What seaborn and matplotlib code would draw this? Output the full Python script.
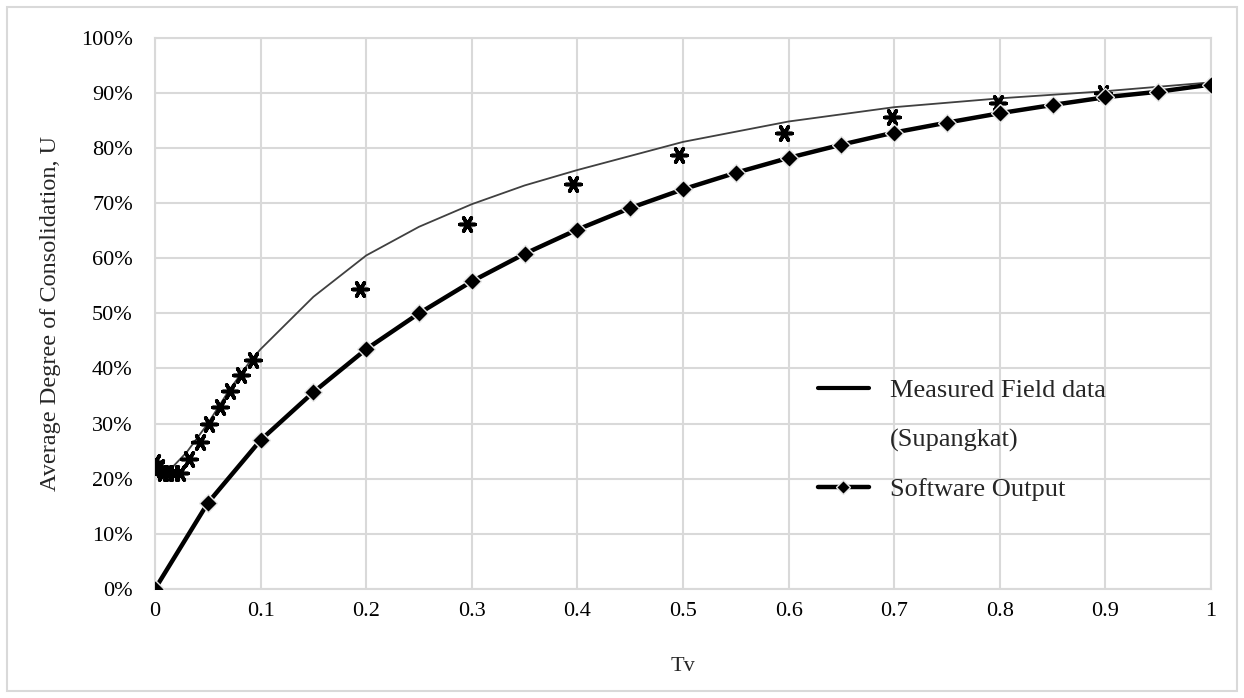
import numpy as np
import pandas as pd
import matplotlib
matplotlib.use("Agg")
import matplotlib.pyplot as plt
from matplotlib.lines import Line2D
from matplotlib.patches import Rectangle
from matplotlib.ticker import PercentFormatter, FuncFormatter
import seaborn as sns

# ---- data ----
tv_software = [0.0, 0.05, 0.1, 0.15, 0.2, 0.25, 0.3, 0.35, 0.4, 0.45, 0.5,
               0.55, 0.6, 0.65, 0.7, 0.75, 0.8, 0.85, 0.9, 0.95, 1.0]
u_software = [0.0, 15.6, 27.0, 35.7, 43.5, 50.0, 55.8, 60.8, 65.2, 69.1, 72.5,
              75.5, 78.2, 80.6, 82.8, 84.6, 86.3, 87.8, 89.2, 90.2, 91.5]

tv_field_line = [0.0, 0.012, 0.03, 0.05, 0.07, 0.09, 0.1, 0.15, 0.2, 0.25, 0.3,
                 0.35, 0.4, 0.5, 0.6, 0.7, 0.8, 0.9, 1.0]
u_field_line = [21.0, 21.2, 24.8, 30.0, 36.0, 41.3, 43.5, 53.0, 60.5, 65.7, 69.8,
                73.2, 76.0, 81.1, 84.8, 87.4, 89.0, 90.3, 91.9]

tv_field_pts = [0.0, 0.0, 0.004, 0.008, 0.012, 0.018, 0.024, 0.032, 0.043, 0.051,
                0.062, 0.071, 0.081, 0.093, 0.194, 0.295, 0.396, 0.496, 0.596,
                0.698, 0.798, 0.898]
u_field_pts = [23.0, 21.5, 22.2, 21.0, 21.0, 21.0, 21.0, 23.6, 26.6, 30.0,
               33.0, 36.0, 38.9, 41.5, 54.4, 66.2, 73.4, 78.8, 82.7,
               85.7, 88.2, 90.0]

x_ticks = [0, 0.1, 0.2, 0.3, 0.4, 0.5, 0.6, 0.7, 0.8, 0.9, 1.0]
y_ticks = [0, 10, 20, 30, 40, 50, 60, 70, 80, 90, 100]

df_soft = pd.DataFrame({"Tv": tv_software, "U": u_software})
df_line = pd.DataFrame({"Tv": tv_field_line, "U": u_field_line})
df_pts = pd.DataFrame({"Tv": tv_field_pts, "U": u_field_pts})

# ---- style ----
sns.set_style("white")
plt.rcParams["font.family"] = ["Liberation Serif", "DejaVu Serif"]

fig = plt.figure(figsize=(12.44, 6.98), dpi=100)
ax = fig.add_axes([155 / 1244, 1 - 589 / 698, (1211 - 155) / 1244, (589 - 37.7) / 698])

grid_c = "#d9d9d9"
ax.set_axisbelow(True)
ax.grid(True, color=grid_c, linewidth=1.5)
for s in ax.spines.values():
    s.set_color(grid_c)
    s.set_linewidth(1.5)

sns.lineplot(data=df_line, x="Tv", y="U", ax=ax, color="#404040", linewidth=1.3,
             sort=False, legend=False, zorder=3)
sns.scatterplot(data=df_pts, x="Tv", y="U", ax=ax, marker=(6, 2, 90), s=120,
                color="black", edgecolor="black", linewidth=2.6, legend=False, zorder=4)
sns.lineplot(data=df_soft, x="Tv", y="U", ax=ax, color="black", linewidth=3.2,
             marker="D", markersize=9, markerfacecolor="black",
             markeredgecolor="#e6e6e6", markeredgewidth=1.0, legend=False, zorder=5)

ax.set_xlim(0, 1)
ax.set_ylim(0, 100)
ax.set_xticks(x_ticks)
ax.set_yticks(y_ticks)
ax.xaxis.set_major_formatter(FuncFormatter(lambda v, p: "0" if v == 0 else ("1" if v == 1 else f"{v:.1f}")))
ax.yaxis.set_major_formatter(PercentFormatter(decimals=0))
ax.tick_params(axis="both", length=0, labelsize=16, colors="black")
ax.tick_params(axis="y", pad=16)
ax.tick_params(axis="x", pad=9)

ax.set_xlabel("Tv", fontsize=16, labelpad=26)
ax.set_ylabel("Average Degree of Consolidation, U", fontsize=17.5, labelpad=14)

handles = [
    Line2D([], [], color="black", linewidth=3),
    Line2D([], [], color="none", linewidth=0),
    Line2D([], [], color="black", linewidth=3.2, marker="D", markersize=7,
           markerfacecolor="black", markeredgecolor="#e6e6e6"),
]
labels = ["Measured Field data", "(Supangkat)", "Software Output"]
leg = ax.legend(handles, labels, loc="upper left", bbox_to_anchor=(0.615, 0.405),
                frameon=False, fontsize=19, handlelength=1.95, handletextpad=0.78,
                labelspacing=0.98, borderpad=0)

fig.patches.append(Rectangle((7 / 1244, 7 / 698), 1 - 14 / 1244, 1 - 14 / 698,
                             transform=fig.transFigure, fill=False,
                             edgecolor="#d9d9d9", linewidth=1.5))

fig.savefig("out.png", dpi=100)
